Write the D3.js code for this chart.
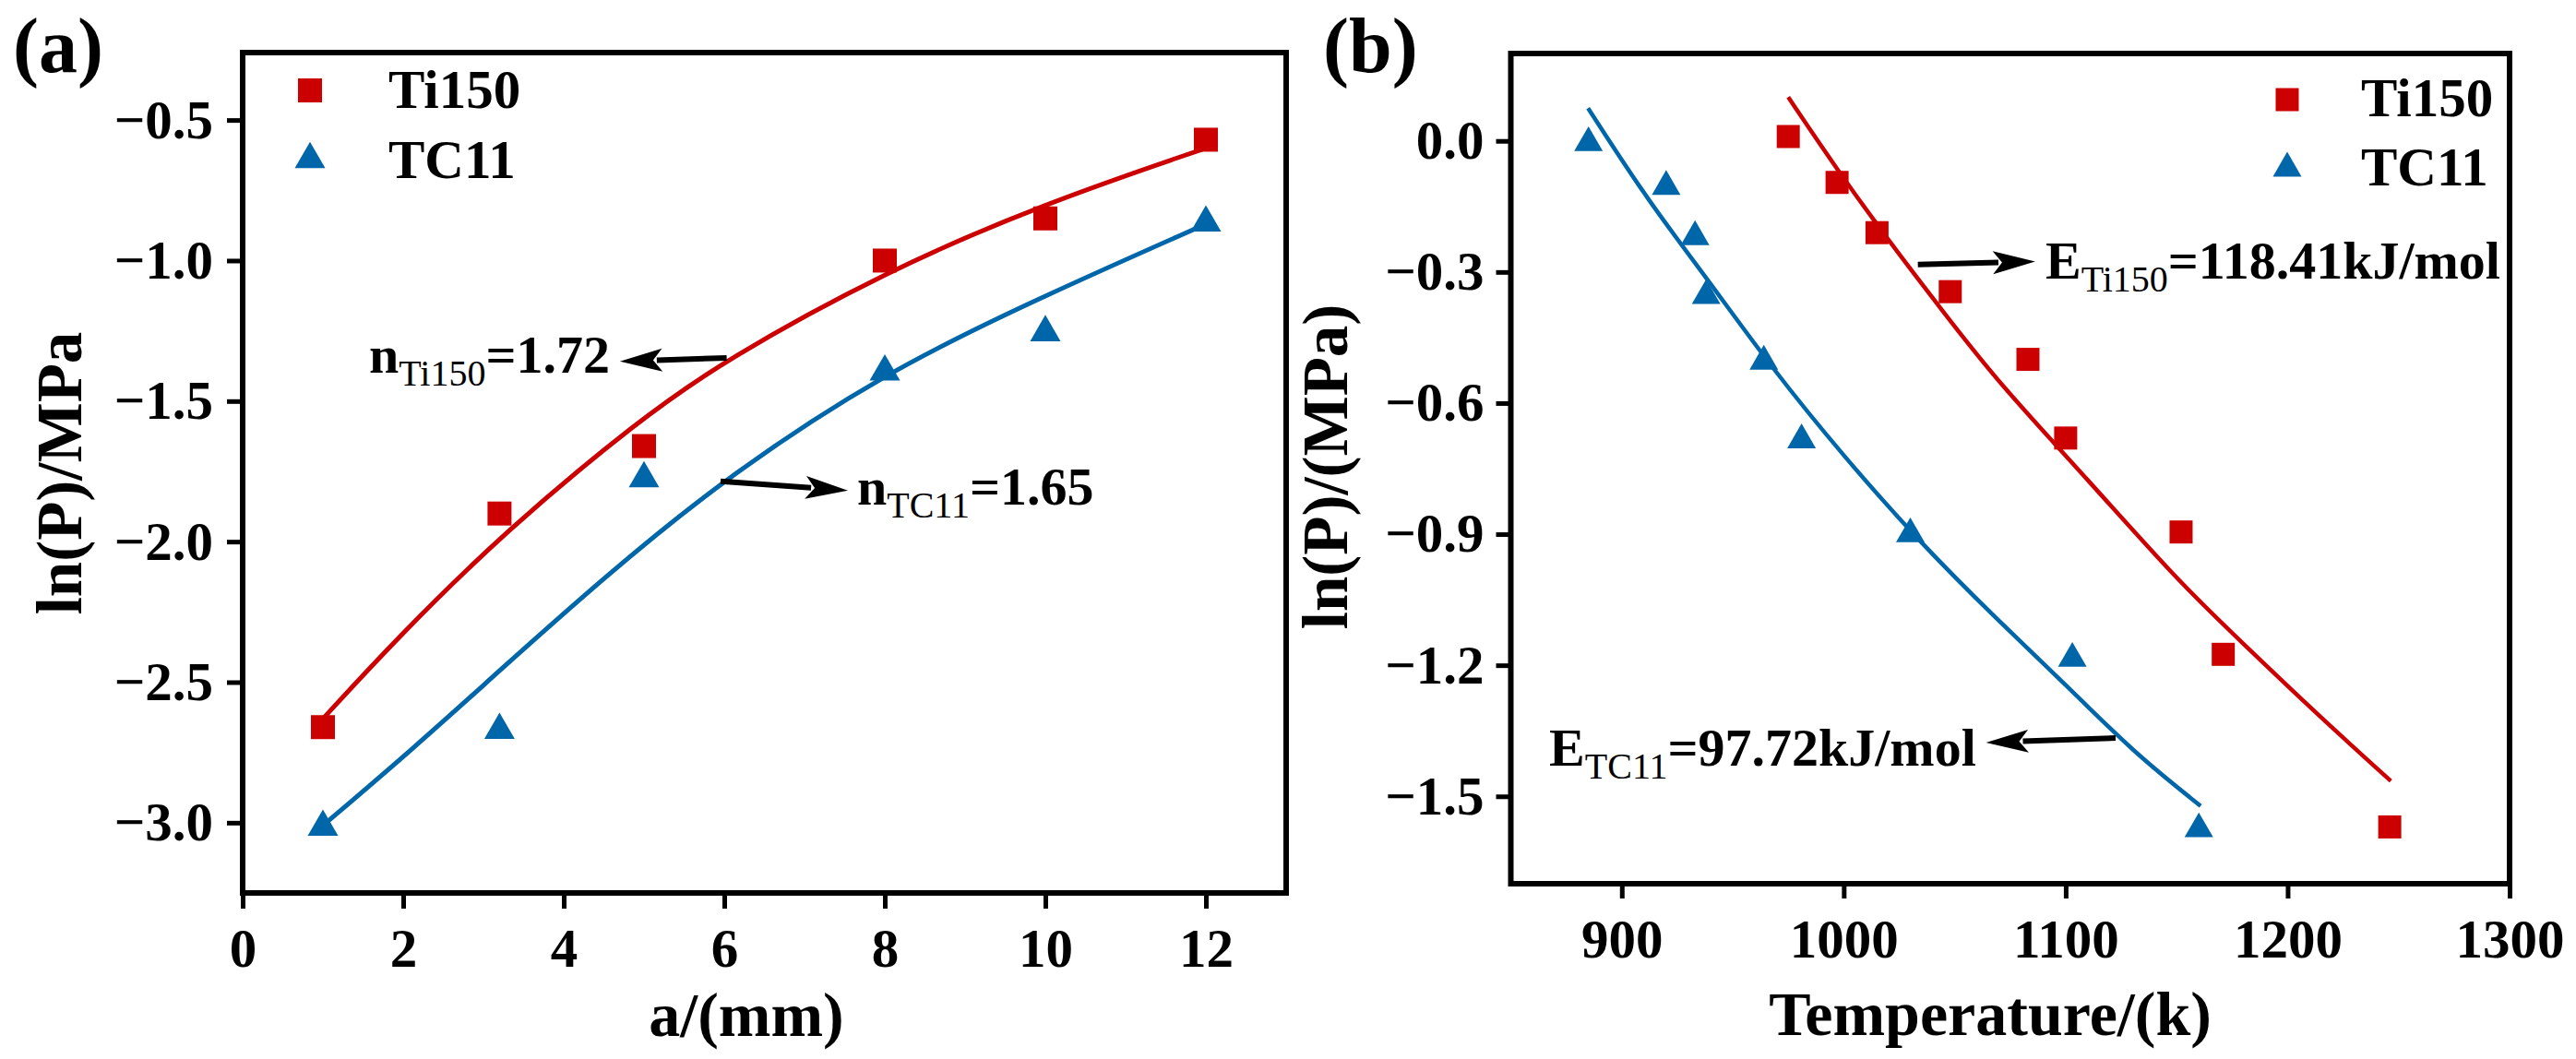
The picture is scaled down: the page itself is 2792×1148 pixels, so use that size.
<!DOCTYPE html>
<html><head><meta charset="utf-8">
<script src="https://cdn.jsdelivr.net/npm/d3@7"></script>
<style>
html,body{margin:0;padding:0;background:#fff;}
svg{display:block;font-family:"Liberation Serif","Times New Roman",Times,serif;}
</style></head><body>
<svg id="chart" width="2792" height="1148"></svg>
<script>
// ================= DATA =================
const seriesNames = ["Ti150", "TC11"];

// panel (a): ln(P) vs a
const aX       = [1, 3.2, 5, 8, 10, 12];
const aTi150   = [-2.66, -1.90, -1.66, -1.00, -0.85, -0.57];
const aTC11    = [-3.00, -2.655, -1.76, -1.38, -1.24, -0.85];
const aFitTi150X = [1.0, 1.9, 3.28, 4.95, 6.0, 8.0, 10.0, 12.0];
const aFitTi150Y = [-2.63, -2.35, -1.96, -1.565, -1.355, -1.04, -0.795, -0.60];
const aFitTC11X  = [1.0, 2.15, 3.18, 4.46, 5.94, 8.0, 10.0, 12.0];
const aFitTC11Y  = [-3.01, -2.73, -2.464, -2.138, -1.787, -1.396, -1.123, -0.87];
const aXTicks = [0, 2, 4, 6, 8, 10, 12];
const aYTicks = [-3.0, -2.5, -2.0, -1.5, -1.0, -0.5];

// panel (b): ln(P) vs temperature
const bTi150T = [975, 997, 1015, 1048, 1083, 1100, 1152, 1171, 1246];
const bTi150  = [0.01, -0.095, -0.21, -0.345, -0.50, -0.68, -0.895, -1.175, -1.57];
const bTC11T  = [885, 920, 933, 938, 964, 981, 1030, 1103, 1160];
const bTC11   = [0.005, -0.095, -0.21, -0.345, -0.495, -0.675, -0.89, -1.175, -1.565];
const bFitTi150T = [975, 996.6, 1021.5, 1043.9, 1069.9, 1110, 1150.7, 1179.9, 1212, 1246.5];
const bFitTi150Y = [0.10, -0.063, -0.237, -0.385, -0.555, -0.775, -1.008, -1.15, -1.306, -1.465];
const bFitTC11T  = [884.8, 911.8, 937.9, 967.6, 1000, 1033.8, 1068.8, 1101, 1130.3, 1160.8];
const bFitTC11Y  = [0.075, -0.137, -0.311, -0.52, -0.722, -0.916, -1.094, -1.249, -1.398, -1.522];
const bXTicks = [900, 1000, 1100, 1200, 1300];
const bYTicks = [0.0, -0.3, -0.6, -0.9, -1.2, -1.5];

// ================= STYLE / LAYOUT =================
const RED = "#CC0000", BLUE = "#0066AA";
const svg = d3.select("#chart");
svg.append("rect").attr("width", 2792).attr("height", 1148).attr("fill", "#fff");

const zip = (xs, ys) => xs.map((x, i) => [x, ys[i]]);

// triangle centred on its bounding box
const triType = {
  draw(ctx, size) {
    const s = Math.sqrt(size * 4 / Math.sqrt(3));
    const h = s * Math.sqrt(3) / 2;
    ctx.moveTo(0, -h / 2);
    ctx.lineTo(s / 2, h / 2);
    ctx.lineTo(-s / 2, h / 2);
    ctx.closePath();
  }
};

function drawArrow(g, p0, p1) {
  const dx = p1[0] - p0[0], dy = p1[1] - p0[1];
  const L = Math.hypot(dx, dy), ux = dx / L, uy = dy / L;
  const hl = 46, hw = 12.5;
  const bx = p1[0] - ux * hl, by = p1[1] - uy * hl;
  g.append("line").attr("x1", p0[0]).attr("y1", p0[1])
    .attr("x2", bx + ux * 6).attr("y2", by + uy * 6)
    .attr("stroke", "#000").attr("stroke-width", 6);
  g.append("path")
    .attr("d", `M${p1[0]},${p1[1]}L${bx - uy * hw},${by + ux * hw}L${bx + ux * 10},${by + uy * 10}L${bx + uy * hw},${by - ux * hw}Z`)
    .attr("fill", "#000");
}

function subText(g, x, y, anchor, main, sub, rest) {
  const t = g.append("text").attr("x", x).attr("y", y)
    .attr("text-anchor", anchor).attr("font-weight", "bold")
    .attr("font-size", 58).attr("fill", "#000");
  t.append("tspan").text(main);
  t.append("tspan").attr("font-size", 40).attr("font-weight", "normal").attr("dy", 14).text(sub);
  t.append("tspan").attr("dy", -14).text(rest);
}

function panel(cfg) {
  const g = svg.append("g");
  const x = d3.scaleLinear().domain(cfg.xDomain).range([cfg.left, cfg.right]);
  const y = d3.scaleLinear().domain(cfg.yDomain).range([cfg.bottom, cfg.top]);

  // axes
  const xa = g.append("g").attr("transform", `translate(0,${cfg.bottom})`)
    .call(d3.axisBottom(x).tickValues(cfg.xTicks).tickFormat(d3.format("d"))
      .tickSize(cfg.tick).tickSizeOuter(0).tickPadding(cfg.xPad));
  const ya = g.append("g").attr("transform", `translate(${cfg.left},0)`)
    .call(d3.axisLeft(y).tickValues(cfg.yTicks).tickFormat(d3.format(".1f"))
      .tickSize(cfg.tick).tickSizeOuter(0).tickPadding(cfg.yPad));
  [xa, ya].forEach(a => {
    a.attr("font-family", '"Liberation Serif","Times New Roman",serif');
    a.select(".domain").remove();
    a.selectAll(".tick line").attr("stroke", "#000").attr("stroke-width", 5);
    a.selectAll(".tick text").attr("fill", "#000").attr("font-size", 59)
      .attr("font-weight", "bold");
  });

  // frame
  g.append("rect").attr("x", cfg.left).attr("y", cfg.top)
    .attr("width", cfg.right - cfg.left).attr("height", cfg.bottom - cfg.top)
    .attr("fill", "none").attr("stroke", "#000").attr("stroke-width", 6);

  // fitted curves
  const line = d3.line().x(d => x(d[0])).y(d => y(d[1])).curve(d3.curveBasis);
  cfg.fits.forEach(f => {
    g.append("path").datum(f.pts).attr("d", line)
      .attr("fill", "none").attr("stroke", f.color).attr("stroke-width", cfg.lw);
  });

  // markers
  const sq = d3.symbol().type(d3.symbolSquare).size(cfg.sq * cfg.sq);
  const tr = d3.symbol().type(triType).size(cfg.tri * cfg.tri * Math.sqrt(3) / 4);
  g.selectAll(null).data(cfg.sqPts).join("path")
    .attr("d", sq).attr("fill", RED)
    .attr("transform", d => `translate(${x(d[0])},${y(d[1])})`);
  g.selectAll(null).data(cfg.triPts).join("path")
    .attr("d", tr).attr("fill", BLUE)
    .attr("transform", d => `translate(${x(d[0])},${y(d[1])})`);

  // legend
  const lg = cfg.legend;
  g.append("path").attr("d", sq).attr("fill", RED).attr("transform", `translate(${lg.mx},${lg.y1})`);
  g.append("path").attr("d", tr).attr("fill", BLUE).attr("transform", `translate(${lg.mx},${lg.y2})`);
  g.append("text").attr("x", lg.tx).attr("y", lg.b1).attr("font-size", 59).attr("font-weight", "bold").text(seriesNames[0]);
  g.append("text").attr("x", lg.tx).attr("y", lg.b2).attr("font-size", 59).attr("font-weight", "bold").text(seriesNames[1]);

  // axis titles
  g.append("text").attr("x", cfg.xTitle.x).attr("y", cfg.xTitle.y).attr("text-anchor", "middle")
    .attr("font-size", 68).attr("font-weight", "bold").text(cfg.xTitle.text);
  g.append("text").attr("transform", `translate(${cfg.yTitle.x},${cfg.yTitle.y}) rotate(-90)`)
    .attr("text-anchor", "middle").attr("font-size", 69).attr("font-weight", "bold").text(cfg.yTitle.text);

  // panel letter
  g.append("text").attr("x", cfg.letter.x).attr("y", cfg.letter.y)
    .attr("font-size", 84).attr("font-weight", "bold").text(cfg.letter.text);

  // annotations
  cfg.ann.forEach(a => {
    drawArrow(g, [x(a.tail[0]), y(a.tail[1])], [x(a.tip[0]), y(a.tip[1])]);
    subText(g, x(a.tx), y(a.ty), a.anchor, a.main, a.sub, a.rest);
  });
}

panel({
  left: 263, right: 1394, top: 57, bottom: 968,
  xDomain: [0, 13], yDomain: [-3.25, -0.26],
  xTicks: aXTicks, yTicks: aYTicks, tick: 17, xPad: 21, yPad: 15, lw: 5,
  sq: 26, tri: 33,
  fits: [
    { pts: zip(aFitTi150X, aFitTi150Y), color: RED },
    { pts: zip(aFitTC11X, aFitTC11Y), color: BLUE }
  ],
  sqPts: zip(aX, aTi150), triPts: zip(aX, aTC11),
  legend: { mx: 336, y1: 98, y2: 168, tx: 421, b1: 117, b2: 193 },
  xTitle: { x: 809, y: 1123, text: "a/(mm)" },
  yTitle: { x: 88, y: 513, text: "ln(P)/MPa" },
  letter: { x: 14, y: 78, text: "(a)" },
  ann: [
    { tail: [6.03, -1.346], tip: [4.70, -1.359], tx: 4.575, ty: -1.399, anchor: "end",
      main: "n", sub: "Ti150", rest: "=1.72" },
    { tail: [5.954, -1.785], tip: [7.54, -1.818], tx: 7.655, ty: -1.867, anchor: "start",
      main: "n", sub: "TC11", rest: "=1.65" }
  ]
});

panel({
  left: 1637.5, right: 2720, top: 58, bottom: 958,
  xDomain: [850, 1300], yDomain: [-1.7, 0.2],
  xTicks: bXTicks, yTicks: bYTicks, tick: 16, xPad: 22, yPad: 13, lw: 4.5,
  sq: 25, tri: 31,
  fits: [
    { pts: zip(bFitTi150T, bFitTi150Y), color: RED },
    { pts: zip(bFitTC11T, bFitTC11Y), color: BLUE }
  ],
  sqPts: zip(bTi150T, bTi150), triPts: zip(bTC11T, bTC11),
  legend: { mx: 2479, y1: 108, y2: 178, tx: 2559, b1: 126, b2: 201 },
  xTitle: { x: 2157, y: 1122, text: "Temperature/(k)" },
  yTitle: { x: 1460, y: 506, text: "ln(P)/(MPa)" },
  letter: { x: 1434, y: 78, text: "(b)" },
  ann: [
    { tail: [1033.4, -0.283], tip: [1086.3, -0.276], tx: 1090.9, ty: -0.316, anchor: "start",
      main: "E", sub: "Ti150", rest: "=118.41kJ/mol" },
    { tail: [1122.5, -1.3665], tip: [1064.1, -1.377], tx: 867.3, ty: -1.430, anchor: "start",
      main: "E", sub: "TC11", rest: "=97.72kJ/mol" }
  ]
});
</script>
</body></html>
